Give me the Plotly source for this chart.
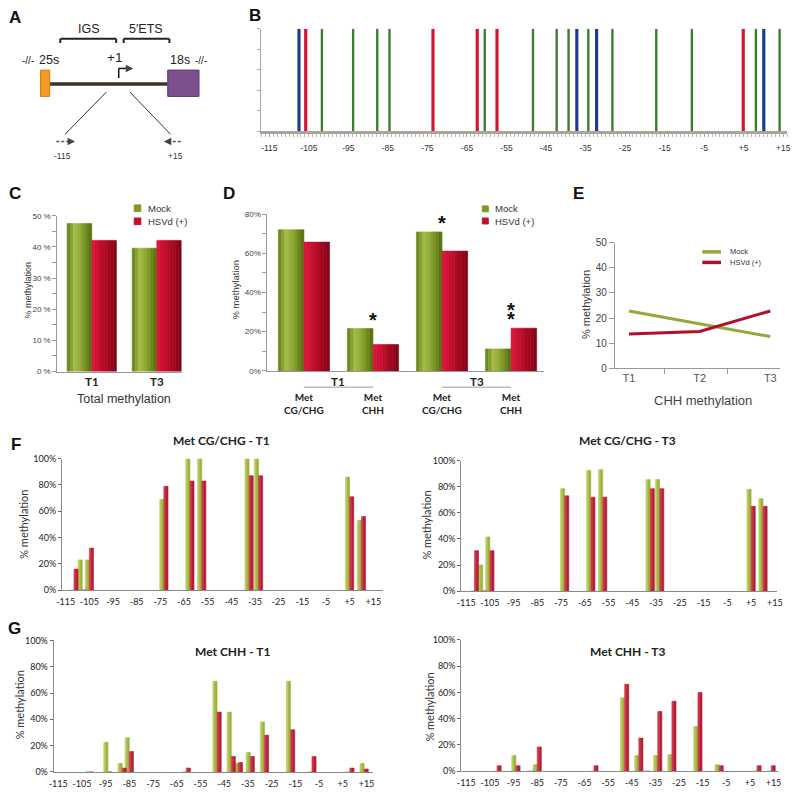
import plotly.graph_objects as go

# ---- B: methylable sites in the -115/+15 region ----
b_sites = [-107.5, -105.8, -101.7, -93.8, -87.7, -84.6, -73.6, -62.4, -60.5, -57.4,
           -48.3, -42.3, -39.3, -37.2, -34.3, -32.2, -28.2, -17.1, -8.1, 4.9, 8.1, 10.1, 14.1]
b_context = ['CHG', 'CG', 'CHH', 'CHH', 'CHH', 'CHH', 'CG', 'CG', 'CHH', 'CG',
             'CHH', 'CHH', 'CHH', 'CHG', 'CHH', 'CHG', 'CHH', 'CHH', 'CHH', 'CG', 'CHH', 'CHG', 'CHH']
pos_ticks = [-115, -105, -95, -85, -75, -65, -55, -45, -35, -25, -15, -5, 5, 15]
pos_labels = ['-115', '-105', '-95', '-85', '-75', '-65', '-55', '-45', '-35', '-25', '-15', '-5', '+5', '+15']

# ---- C: total methylation ----
c_groups = ['T1', 'T3']
c_mock = [47.5, 39.6]
c_hsvd = [42.1, 42.1]

# ---- D: methylation by context ----
d_cats = ['T1 CG/CHG', 'T1 CHH', 'T3 CG/CHG', 'T3 CHH']
d_mock = [72.0, 21.6, 70.9, 11.2]
d_hsvd = [65.7, 13.4, 61.1, 21.8]
d_stars = [0, 1, 1, 2]

# ---- E: CHH methylation over time ----
e_x = [1, 2, 3]
e_labels = ['T1', 'T2', 'T3']
e_mock = [22.8, 17.6, 12.6]
e_hsvd = [13.6, 14.6, 22.8]

# ---- F: CG/CHG sites ----
f_sites = [-111.5, -108, -105, -73.5, -62.5, -57.5, -37.5, -33.5, 5, 10]
f_t1_mock = [0, 23, 23, 69, 100, 100, 100, 100, 86, 53]
f_t1_hsvd = [16, 0, 32, 79, 83, 83, 87, 87, 71, 56]
f_t3_mock = [0, 20, 41.5, 78.5, 92.5, 93, 85.5, 85.5, 78, 70.8]
f_t3_hsvd = [31, 0, 31, 73, 72, 72, 78.5, 78.5, 65, 65]

# ---- G: CHH sites ----
g_sites = [-102, -94, -88, -85, -61, -48, -42, -39, -34, -28, -17, -8, 8, 14]
g_t1_mock = [0, 22.5, 6.5, 26, 0, 69, 45.5, 6.5, 14.75, 38, 69, 0, 0, 6.5]
g_t1_hsvd = [0, 0, 3, 15.5, 3, 45.5, 11.75, 7.25, 11.75, 28, 32, 11.75, 3, 2.25]
g_t3_mock = [0, 12, 0, 5, 0, 56, 12, 0, 12, 12.75, 34, 5, 0, 0]
g_t3_hsvd = [4.25, 4.25, 0, 18.5, 4.25, 66.25, 25.25, 0, 45.5, 53.25, 60, 4.25, 4.25, 4.25]

ARIAL = 'Liberation Sans, Arial'
CAL = 'Lato, Calibri'
W, H = 800, 796
ctx_color = {'CG': '#d2152f', 'CHG': '#1f3a8c', 'CHH': '#3b7e30'}
ctx_width = {'CG': 0.8, 'CHG': 0.8, 'CHH': 0.6}
mock_big = ['#5f7c16', '#a6bf4a', '#7f9a26', '#526c0c']
hsvd_big = ['#dc1a40', '#c40e2e', '#a6081f', '#7c0416']
mock_small = ['#c6d86a', '#8ea632']
hsvd_small = ['#dc4456', '#a31428']


def X(p):
    return p / W


def Y(p):
    return 1 - p / H


fig = go.Figure()
shapes = []
annots = []


def blend(stops, n):
    out = []
    for i in range(n):
        t = (i + 0.5) / n * (len(stops) - 1)
        k = min(int(t), len(stops) - 2)
        f = t - k
        a = [int(stops[k][j:j + 2], 16) for j in (1, 3, 5)]
        b = [int(stops[k + 1][j:j + 2], 16) for j in (1, 3, 5)]
        out.append('rgb(%d,%d,%d)' % tuple(round(a[m] + (b[m] - a[m]) * f) for m in range(3)))
    return out


def bars(x, y, xa, ya, offset, width, stops, n):
    # shaded bar drawn as n narrow strips
    for i, c in enumerate(blend(stops, n)):
        fig.add_trace(go.Bar(x=x, y=y, xaxis=xa, yaxis=ya, offset=offset + i * width / n, width=width / n,
                             marker=dict(color=c, line=dict(width=0.6, color=c)),
                             showlegend=False, hoverinfo='skip'))


def txt(x, y, s, size, family=ARIAL, color='#222', anchor='center', angle=0):
    annots.append(dict(xref='paper', yref='paper', x=X(x), y=Y(y), text=s, showarrow=False, textangle=angle,
                       font=dict(family=family, size=size, color=color), xanchor=anchor, yanchor='middle'))


def line(x0, y0, x1, y1, color='#333', width=1, dash='solid'):
    shapes.append(dict(type='line', xref='paper', yref='paper', x0=X(x0), y0=Y(y0), x1=X(x1), y1=Y(y1),
                       line=dict(color=color, width=width, dash=dash)))


def rect(x0, y0, x1, y1, fill, edge=None):
    shapes.append(dict(type='rect', xref='paper', yref='paper', x0=X(x0), y0=Y(y0), x1=X(x1), y1=Y(y1),
                       fillcolor=fill, line=dict(color=edge or fill, width=1)))


def arrowhead(x, y, dx):
    annots.append(dict(xref='paper', yref='paper', x=X(x), y=Y(y), ax=-dx, ay=0, text='', showarrow=True,
                       arrowhead=2, arrowsize=1, arrowwidth=1.5, arrowcolor='#444'))


# ---------------- A: scheme ----------------
txt(84, 23, 'IGS', 12.5)
txt(142, 23, '5\u2032ETS', 12.5)
for x0, x1 in [(55, 111.7), (119.3, 165.7)]:
    line(x0, 33.3, x1, 33.3, '#222', 2)
    line(x0, 33.3, x0, 37.5, '#222', 2)
    line(x1, 33.3, x1, 37.5, '#222', 2)
txt(110, 52, '+1', 13.5)
txt(22, 55, '-//-', 10)
txt(44, 55, '25s', 12.5)
txt(176, 55, '18s', 12.5)
txt(198, 55, '-//-', 10)
line(44.3, 79, 164, 79, '#3d3522', 3.5)
rect(35, 65, 44.3, 91.7, '#f29a26', '#d87a12')
rect(164, 65, 195.7, 91.7, '#7c4f8e', '#5f3872')
line(114.3, 73, 114.3, 63.3, '#111', 1.5)
line(114.3, 63.3, 126, 63.3, '#111', 1.5)
arrowhead(129, 63.3, 5)
line(101.7, 87.3, 60, 130, '#333', 1)
line(125.7, 87.3, 166.7, 130, '#333', 1)
line(51, 137.3, 66, 137.3, '#555', 1.5, '3px,2px')
arrowhead(70, 137.3, 4)
line(164, 137.3, 179, 137.3, '#555', 1.5, '3px,2px')
arrowhead(160, 137.3, -4)
txt(57, 152, '-115', 8.5, color='#333')
txt(172, 152, '+15', 8.5, color='#333')

# ---------------- B: sites ----------------
for ctx in ['CHH', 'CG', 'CHG']:
    xs = [s for s, c in zip(b_sites, b_context) if c == ctx]
    fig.add_trace(go.Bar(x=xs, y=[1] * len(xs), width=ctx_width[ctx], xaxis='x', yaxis='y',
                         marker=dict(color=ctx_color[ctx], line=dict(width=0)), showlegend=False))

# ---------------- C ----------------
cw = 0.379
bars(c_groups, c_mock, 'x2', 'y2', -cw, cw, mock_big, 8)
bars(c_groups, c_hsvd, 'x2', 'y2', 0, cw, hsvd_big, 8)
rect(130, 201.7, 136.7, 208.3, '#7d9a22')
txt(141.7, 205, 'Mock', 9.5, color='#333', anchor='left')
rect(130, 215, 136.7, 221.7, '#c20e2c')
txt(141.7, 218.3, 'HSVd (+)', 9.5, color='#333', anchor='left')
txt(22.7, 288, '% methylation', 9, color='#333', angle=-90)
txt(120, 399, 'Total methylation', 12.5, color='#333')

# ---------------- D ----------------
dw = 0.371
bars(d_cats, d_mock, 'x3', 'y3', -dw, dw, mock_big, 8)
bars(d_cats, d_hsvd, 'x3', 'y3', 0, dw, hsvd_big, 8)
for cat, m, h, k in zip(d_cats, d_mock, d_hsvd, d_stars):
    for j in range(k):
        annots.append(dict(xref='x3', yref='y3', x=cat, y=max(m, h) + 4.5 + 5 * j, text='<b>*</b>',
                           showarrow=False, font=dict(family=ARIAL, size=20, color='#111'), yanchor='middle'))
    annots.append(dict(xref='x3', yref='paper', x=cat, y=Y(388), text='<b>Met<br>' + cat.split(' ')[1] + '</b>',
                       showarrow=False, font=dict(family=CAL, size=10, color='#222'), yanchor='top'))
for i, grp in enumerate(['T1', 'T3']):
    annots.append(dict(xref='x3', yref='paper', x=2 * i + 0.5, y=Y(380.5), text='<b>' + grp + '</b>',
                       showarrow=False, font=dict(family=CAL, size=11.5, color='#222'), yanchor='middle'))
    shapes.append(dict(type='line', xref='x3', yref='paper', x0=2 * i, x1=2 * i + 1, y0=Y(386.5), y1=Y(386.5),
                       line=dict(color='#999', width=1)))
rect(483, 202.7, 489, 208.7, '#7d9a22')
txt(494, 205.5, 'Mock', 9.5, color='#333', anchor='left')
rect(483, 215, 489, 221, '#c20e2c')
txt(494, 218.3, 'HSVd (+)', 9.5, color='#333', anchor='left')
txt(232.7, 288, '% methylation', 9.5, color='#333', angle=-90)

# ---------------- E ----------------
fig.add_trace(go.Scatter(x=e_x, y=e_mock, mode='lines', line=dict(color='#95a83a', width=3),
                         xaxis='x4', yaxis='y4', showlegend=False))
fig.add_trace(go.Scatter(x=e_x, y=e_hsvd, mode='lines', line=dict(color='#b0102c', width=3),
                         xaxis='x4', yaxis='y4', showlegend=False))
line(706, 249.3, 725, 249.3, '#95a83a', 3.5)
txt(731.7, 249.3, 'Mock', 7.5, color='#333', anchor='left')
line(706, 260, 725, 260, '#b0102c', 3.5)
txt(731.7, 260, 'HSVd (+)', 7.5, color='#333', anchor='left')
txt(588.3, 303, '% methylation', 11, color='#333', angle=-90)
txt(707, 400, 'CHH methylation', 13, color='#444')

# ---------------- F / G ----------------
bw = 1.75
panels = [
    (5, f_sites, f_t1_mock, f_t1_hsvd),
    (6, f_sites, f_t3_mock, f_t3_hsvd),
    (7, g_sites, g_t1_mock, g_t1_hsvd),
    (8, g_sites, g_t3_mock, g_t3_hsvd),
]
for n, sites, mock, hsvd in panels:
    bars(sites, mock, 'x%d' % n, 'y%d' % n, -bw, bw, mock_small, 2)
    bars(sites, hsvd, 'x%d' % n, 'y%d' % n, 0, bw, hsvd_small, 2)

txt(218.3, 440.7, '<b>Met CG/CHG - T1</b>', 12, family=CAL)
txt(630, 440.7, '<b>Met CG/CHG - T3</b>', 12, family=CAL)
txt(229.3, 654.3, '<b>Met CHH - T1</b>', 12, family=CAL)
txt(630, 654.3, '<b>Met CHH - T3</b>', 12, family=CAL)
txt(18.3, 526, '% methylation', 11, family=CAL, color='#333', angle=-90)
txt(426.7, 526, '% methylation', 11, family=CAL, color='#333', angle=-90)
txt(13.3, 709, '% methylation', 11, family=CAL, color='#333', angle=-90)
txt(429.3, 711, '% methylation', 11, family=CAL, color='#333', angle=-90)

# panel letters
for lab, x, y in [('A', 9, 12), ('B', 252, 10), ('C', 9, 190), ('D', 226, 190), ('E', 580, 190),
                  ('F', 10, 445), ('G', 9, 631)]:
    txt(x, y, '<b>' + lab + '</b>', 17, color='#111')

# ---------------- axes ----------------
axes = {}
axes['xaxis'] = dict(domain=[X(259), X(792)], range=[-117, 16], anchor='y', tickvals=pos_ticks, ticktext=pos_labels,
                     ticks='outside', ticklen=3, tickcolor='#aaa', showline=True, linecolor='#aaa59c', linewidth=3,
                     minor=dict(dtick=1, ticks='outside', ticklen=3, tickcolor='#b8b8b8'),
                     tickfont=dict(family=ARIAL, size=8.5, color='#333'), ticklabelstandoff=4,
                     showgrid=False, zeroline=False)
axes['yaxis'] = dict(domain=[Y(127), Y(23)], range=[0, 1], anchor='x', showticklabels=False, ticks='outside',
                     ticklen=3, dtick=0.2, tickcolor='#aaa', showline=True, linecolor='#aaa',
                     showgrid=False, zeroline=False)
axes['xaxis2'] = dict(domain=[X(52), X(178)], range=[-0.53, 1.38], anchor='y2', type='category', ticks='',
                      showline=True, linecolor='#999', showgrid=False, zeroline=False,
                      tickfont=dict(family=CAL, size=11.5, color='#222', weight='bold'))
axes['yaxis2'] = dict(domain=[Y(370.7), Y(212.7)], range=[0, 50], anchor='x2', dtick=10, ticksuffix=' %',
                      ticks='outside', ticklen=4, tickcolor='#999',
                      minor=dict(dtick=5, ticks='outside', ticklen=4, tickcolor='#999'),
                      showline=True, linecolor='#999', tickfont=dict(family=ARIAL, size=8, color='#444'),
                      showgrid=False, zeroline=False)
axes['xaxis3'] = dict(domain=[X(265), X(545)], range=[-0.53, 3.47], anchor='y3', type='category',
                      showticklabels=False, ticks='', showline=True, linecolor='#999',
                      showgrid=False, zeroline=False)
axes['yaxis3'] = dict(domain=[Y(370), Y(211)], range=[0, 80], anchor='x3', dtick=20, ticksuffix='%',
                      ticks='outside', ticklen=4, tickcolor='#999',
                      minor=dict(dtick=10, ticks='outside', ticklen=4, tickcolor='#999'),
                      showline=True, linecolor='#999', tickfont=dict(family=ARIAL, size=8, color='#444'),
                      showgrid=False, zeroline=False)
axes['xaxis4'] = dict(domain=[X(617.3), X(785)], range=[0.8, 3.14], anchor='y4', tickvals=e_x, ticktext=e_labels,
                      ticks='', showline=True, linecolor='#999',
                      minor=dict(tickvals=[1.5, 2.4], ticks='outside', ticklen=5, tickcolor='#999'),
                      tickfont=dict(family=ARIAL, size=11, color='#555'), showgrid=False, zeroline=False)
axes['yaxis4'] = dict(domain=[Y(367.3), Y(240)], range=[0, 50], anchor='x4', dtick=10, ticks='outside', ticklen=5,
                      tickcolor='#999', showline=True, linecolor='#999',
                      tickfont=dict(family=ARIAL, size=10, color='#444'), showgrid=False, zeroline=False)

fg_dom = {
    5: ([X(56.7), X(382)], [Y(592.3), Y(459)], [-116.6, 19]),
    6: ([X(461.7), X(782)], [Y(593.3), Y(461)], [-117, 16]),
    7: ([X(48.3), X(372)], [Y(776.7), Y(643.3)], [-116.9, 17.7]),
    8: ([X(461.7), X(783)], [Y(776), Y(642.7)], [-117.1, 17]),
}
for n, (xd, yd, xr) in fg_dom.items():
    axes['xaxis%d' % n] = dict(domain=xd, range=xr, anchor='y%d' % n, tickvals=pos_ticks, ticktext=pos_labels,
                               ticks='', showline=True, linecolor='#8a8a8a', ticklabelstandoff=3,
                               tickfont=dict(family=CAL, size=9, color='#222'), showgrid=False, zeroline=False)
    axes['yaxis%d' % n] = dict(domain=yd, range=[0, 100], anchor='x%d' % n, dtick=20, ticksuffix='%',
                               ticks='outside', ticklen=3, tickcolor='#666', showline=True, linecolor='#8a8a8a',
                               tickfont=dict(family=CAL, size=9, color='#222'), showgrid=False, zeroline=False)

fig.update_layout(width=W, height=H, margin=dict(l=0, r=0, t=0, b=0), paper_bgcolor='white',
                  plot_bgcolor='white', barmode='overlay', showlegend=False, font=dict(family=ARIAL),
                  shapes=shapes, annotations=annots, **axes)
# drop the default 8px page margin so the figure sits at the window origin
fig.write_html('out.html', config={'displayModeBar': False},
               post_script="document.body.style.margin='0px';")
